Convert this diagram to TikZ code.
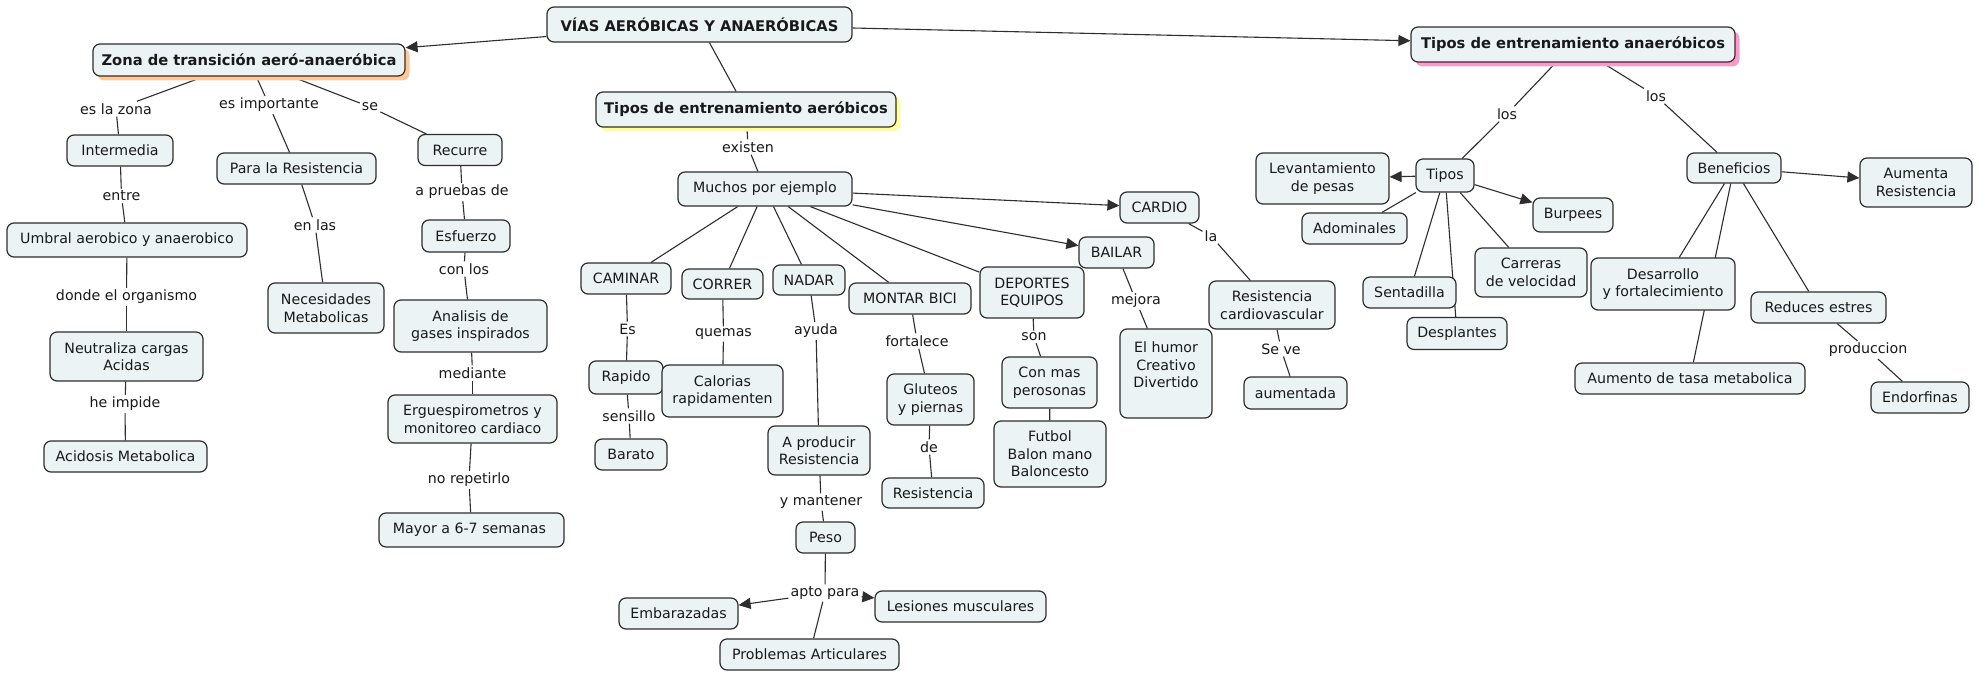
\documentclass[tikz,border=0pt]{standalone}
\usepackage{fontspec}
\setmainfont{DejaVu Sans}
\usetikzlibrary{arrows.meta,shadows,backgrounds}
\definecolor{boxfill}{HTML}{EBF3F5}
\definecolor{edgecol}{HTML}{2E2E2E}
\definecolor{shorange}{HTML}{FFC896}
\definecolor{shyellow}{HTML}{FFFF99}
\definecolor{shpink}{HTML}{FF99CC}
\newcommand\myfs{\fontsize{14.2}{17.5}\selectfont}
\newcommand\myhfs{\fontsize{14.7}{17.5}\selectfont}
\begin{document}
\begin{tikzpicture}[x=1pt,y=-1pt,
  box/.style={draw=edgecol, line width=1.2pt, fill=boxfill, rounded corners=7pt, align=center, inner sep=2pt, font=\myfs, text=black!90},
  head/.style={box, font=\myhfs\bfseries},
  lab/.style={inner sep=2pt, font=\myfs, text=black!90},
  conn/.style={draw=edgecol, line width=1.1pt},
  arr/.style={conn, -{Triangle[length=12pt,width=11pt]}},
  shadowcol/.style={drop shadow={shadow xshift=4.5pt, shadow yshift=-4.5pt, fill=#1, opacity=1}},
]
\useasboundingbox (0,0) rectangle (1986,679);

% ---------- headers ----------
\node[head, minimum width=305, minimum height=35] (vias) at (699.5,24.5) {VÍAS AERÓBICAS Y ANAERÓBICAS};
\node[head, shadowcol=shorange, minimum width=312, minimum height=32] (zona) at (249,60) {Zona de transición aeró-anaeróbica};
\node[head, shadowcol=shyellow, minimum width=300, minimum height=35] (aer) at (746,109.5) {Tipos de entrenamiento aeróbicos};
\node[head, shadowcol=shpink, minimum width=324, minimum height=35] (anaer) at (1573,44.5) {Tipos de entrenamiento anaeróbicos};

% ---------- left branch ----------
\node[box, minimum width=106, minimum height=31] (inter) at (120,150.5) {Intermedia};
\node[box, minimum width=159, minimum height=31] (para) at (296.5,168.5) {Para la Resistencia};
\node[box, minimum width=84, minimum height=31] (recurre) at (460,150) {Recurre};
\node[box, minimum width=240, minimum height=34] (umbral) at (127,240) {Umbral aerobico y anaerobico};
\node[box, minimum width=88, minimum height=32] (esfuerzo) at (466,236) {Esfuerzo};
\node[box, minimum width=116, minimum height=50] (neces) at (326,308) {Necesidades\\Metabolicas};
\node[box, minimum width=153, minimum height=52] (analisis) at (470.5,326) {Analisis de\\gases inspirados};
\node[box, minimum width=153, minimum height=49] (neutra) at (126.5,356.5) {Neutraliza cargas\\Acidas};
\node[box, minimum width=169, minimum height=48] (ergues) at (472.5,419) {Erguespirometros y\\monitoreo cardiaco};
\node[box, minimum width=163, minimum height=31] (acidosis) at (125.5,456.5) {Acidosis Metabolica};
\node[box, minimum width=185, minimum height=34] (mayor) at (471.5,530) {Mayor a 6-7 semanas\hspace*{4pt}};

\node[lab] (l-eslazona) at (116,109) {es la zona};
\node[lab] (l-esimp) at (269,105) {es importante};
\node[lab] (l-se) at (370,107) {se};
\node[lab] (l-entre) at (121.5,196) {entre};
\node[lab] (l-enlas) at (315,225) {en las};
\node[lab] (l-apruebas) at (462,192) {a pruebas de};
\node[lab] (l-donde) at (126.5,297) {donde el organismo};
\node[lab] (l-conlos) at (464,269) {con los};
\node[lab] (l-heimpide) at (125,404) {he impide};
\node[lab] (l-mediante) at (472.5,373) {mediante};
\node[lab] (l-norep) at (469,480) {no repetirlo};

% ---------- middle branch ----------
\node[box, minimum width=174, minimum height=34] (muchos) at (765,189) {Muchos por ejemplo};
\node[box, minimum width=90, minimum height=31] (caminar) at (626,278.5) {CAMINAR};
\node[box, minimum width=81, minimum height=30] (correr) at (722.5,284) {CORRER};
\node[box, minimum width=72, minimum height=30] (nadar) at (809,280) {NADAR};
\node[box, minimum width=122, minimum height=31] (montar) at (910,298.5) {MONTAR BICI};
\node[box, minimum width=104, minimum height=51] (deportes) at (1032,292.5) {DEPORTES\\EQUIPOS};
\node[box, minimum width=75, minimum height=31] (bailar) at (1116.5,252.5) {BAILAR};
\node[box, minimum width=79, minimum height=31] (cardio) at (1159.5,207.5) {CARDIO};
\node[box, minimum width=74, minimum height=33] (rapido) at (626,377.5) {Rapido};
\node[box, minimum width=72, minimum height=31] (barato) at (631,454.5) {Barato};
\node[box, minimum width=121, minimum height=52] (calorias) at (722.5,391) {Calorias\\rapidamenten};
\node[box, minimum width=102, minimum height=49] (aprod) at (819,450.5) {A producir\\Resistencia};
\node[box, minimum width=87, minimum height=51] (gluteos) at (930.5,399.5) {Gluteos\\y piernas};
\node[box, minimum width=102, minimum height=30] (resis) at (933,493) {Resistencia};
\node[box, minimum width=95, minimum height=51] (conmas) at (1049.5,382.5) {Con mas\\perosonas};
\node[box, minimum width=112, minimum height=66] (futbol) at (1050,454) {Futbol\\Balon mano\\Baloncesto};
\node[box, minimum width=59, minimum height=31] (peso) at (825.5,537.5) {Peso};
\node[box, minimum width=119, minimum height=31] (embar) at (678.5,613.5) {Embarazadas};
\node[box, minimum width=171, minimum height=31] (lesiones) at (960.5,606.5) {Lesiones musculares};
\node[box, minimum width=179, minimum height=31] (problemas) at (809.5,654.5) {Problemas Articulares};
\node[box, minimum width=92, minimum height=89] (humor) at (1166,373.5) {El humor\\Creativo\\Divertido\\\mbox{}};
\node[box, minimum width=126, minimum height=48] (rescardio) at (1272,305) {Resistencia\\cardiovascular};
\node[box, minimum width=103, minimum height=32] (aument) at (1295.5,393) {aumentada};

\node[lab] (l-existen) at (748,147) {existen};
\node[lab] (l-es) at (627.5,329) {Es};
\node[lab] (l-quemas) at (723.5,334) {quemas};
\node[lab] (l-ayuda) at (816,331) {ayuda};
\node[lab] (l-fortalece) at (917,341) {fortalece};
\node[lab] (l-son) at (1034,337) {son};
\node[lab] (l-mejora) at (1136,301) {mejora};
\node[lab] (l-la) at (1211,236) {la};
\node[lab] (l-seve) at (1281,349) {Se ve};
\node[lab] (l-sensillo) at (629,416) {sensillo};
\node[lab] (l-de) at (929,447) {de};
\node[lab] (l-ymant) at (821,502) {y mantener};
\node[lab] (l-apto) at (825,593) {apto para};

% ---------- right branch ----------
\node[box, minimum width=133, minimum height=51] (levant) at (1322.5,178.5) {Levantamiento\\de pesas};
\node[box, minimum width=58, minimum height=33] (tipos) at (1445,175.5) {Tipos};
\node[box, minimum width=105, minimum height=31] (adom) at (1354.5,228.5) {Adominales};
\node[box, minimum width=93, minimum height=31] (sentad) at (1409.5,292.5) {Sentadilla};
\node[box, minimum width=100, minimum height=32] (despl) at (1457,333.5) {Desplantes};
\node[box, minimum width=112, minimum height=49] (carreras) at (1531,272.5) {Carreras\\de velocidad};
\node[box, minimum width=80, minimum height=34] (burpees) at (1573,215) {Burpees};
\node[box, minimum width=94, minimum height=30] (benef) at (1734,168) {Beneficios};
\node[box, minimum width=112, minimum height=49] (aumres) at (1916,182.5) {Aumenta\\Resistencia};
\node[box, minimum width=144, minimum height=52] (desarr) at (1663,284) {Desarrollo\\y fortalecimiento};
\node[box, minimum width=135, minimum height=31] (reduces) at (1818.5,307.5) {Reduces estres};
\node[box, minimum width=98, minimum height=31] (endorf) at (1920,397.5) {Endorfinas};
\node[box, minimum width=230, minimum height=31] (tasa) at (1690,378.5) {Aumento de tasa metabolica};

\node[lab] (l-los1) at (1507,114) {los};
\node[lab] (l-los2) at (1656,96) {los};
\node[lab] (l-prod) at (1868,350) {produccion};

% ---------- connectors ----------
\begin{pgfonlayer}{background}
\fill[white] (0,0) rectangle (1986,679);
\draw[arr] (vias) -- (zona);
\draw[arr] (vias) -- (anaer);
\draw[conn] (vias) -- (aer);

\draw[conn] (zona) -- (l-eslazona); \draw[conn] (l-eslazona) -- (inter);
\draw[conn] (inter) -- (l-entre); \draw[conn] (l-entre) -- (umbral);
\draw[conn] (umbral) -- (l-donde); \draw[conn] (l-donde) -- (neutra);
\draw[conn] (neutra) -- (l-heimpide); \draw[conn] (l-heimpide) -- (acidosis);
\draw[conn] (zona) -- (l-esimp); \draw[conn] (l-esimp) -- (para);
\draw[conn] (para) -- (l-enlas); \draw[conn] (l-enlas) -- (neces);
\draw[conn] (zona) -- (l-se); \draw[conn] (l-se) -- (recurre);
\draw[conn] (recurre) -- (l-apruebas); \draw[conn] (l-apruebas) -- (esfuerzo);
\draw[conn] (esfuerzo) -- (l-conlos); \draw[conn] (l-conlos) -- (analisis);
\draw[conn] (analisis) -- (l-mediante); \draw[conn] (l-mediante) -- (ergues);
\draw[conn] (ergues) -- (l-norep); \draw[conn] (l-norep) -- (mayor);

\draw[conn] (aer) -- (l-existen); \draw[conn] (l-existen) -- (muchos);
\draw[arr] (muchos) -- (cardio);
\draw[arr] (muchos) -- (bailar);
\draw[conn] (muchos) -- (caminar);
\draw[conn] (muchos) -- (correr);
\draw[conn] (muchos) -- (nadar);
\draw[conn] (muchos) -- (montar);
\draw[conn] (muchos) -- (deportes);
\draw[conn] (caminar) -- (l-es); \draw[conn] (l-es) -- (rapido);
\draw[conn] (rapido) -- (l-sensillo); \draw[conn] (l-sensillo) -- (barato);
\draw[conn] (correr) -- (l-quemas); \draw[conn] (l-quemas) -- (calorias);
\draw[conn] (nadar) -- (l-ayuda); \draw[conn] (l-ayuda) -- (aprod);
\draw[conn] (aprod) -- (l-ymant); \draw[conn] (l-ymant) -- (peso);
\draw[conn] (peso) -- (l-apto);
\draw[arr] (l-apto) -- (embar);
\draw[arr] (l-apto) -- (lesiones);
\draw[conn] (l-apto) -- (problemas);
\draw[conn] (montar) -- (l-fortalece); \draw[conn] (l-fortalece) -- (gluteos);
\draw[conn] (gluteos) -- (l-de); \draw[conn] (l-de) -- (resis);
\draw[conn] (deportes) -- (l-son); \draw[conn] (l-son) -- (conmas);
\draw[conn] (conmas) -- (futbol);
\draw[conn] (bailar) -- (l-mejora); \draw[conn] (l-mejora) -- (humor);
\draw[conn] (cardio) -- (l-la); \draw[conn] (l-la) -- (rescardio);
\draw[conn] (rescardio) -- (l-seve); \draw[conn] (l-seve) -- (aument);

\draw[conn] (anaer) -- (l-los1); \draw[conn] (l-los1) -- (tipos);
\draw[conn] (anaer) -- (l-los2); \draw[conn] (l-los2) -- (benef);
\draw[arr] (tipos) -- (levant);
\draw[arr] (tipos) -- (burpees);
\draw[conn] (tipos) -- (adom);
\draw[conn] (tipos) -- (sentad);
\draw[conn] (tipos) -- (despl);
\draw[conn] (tipos) -- (carreras);
\draw[arr] (benef) -- (aumres);
\draw[conn] (benef) -- (desarr);
\draw[conn] (benef) -- (tasa);
\draw[conn] (benef) -- (reduces);
\draw[conn] (reduces) -- (l-prod); \draw[conn] (l-prod) -- (endorf);
\end{pgfonlayer}
\end{tikzpicture}
\end{document}
